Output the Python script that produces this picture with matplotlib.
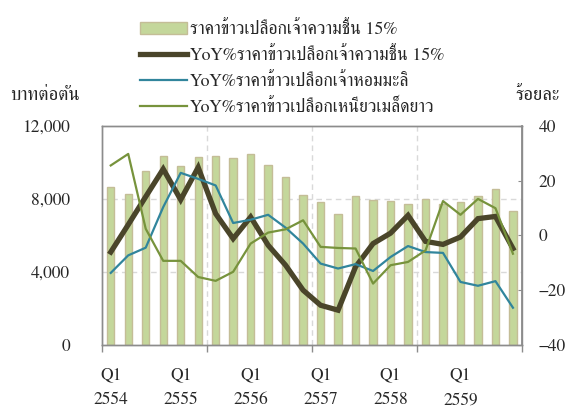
import numpy as np
import matplotlib
matplotlib.use("Agg")
from matplotlib import pyplot as plt
from matplotlib.patches import Patch
from matplotlib.lines import Line2D

plt.rcParams['font.family'] = ['FreeSerif', 'Liberation Serif', 'DejaVu Sans']

quarters = ['Q1\n2554', '', '', '', 'Q1\n2555', '', '', '', 'Q1\n2556', '', '', '',
            'Q1\n2557', '', '', '', 'Q1\n2558', '', '', '', 'Q1\n2559', '', '', '']

price_15 = [8650, 8250, 9500, 10320, 9770, 10270, 10320, 10210, 10470, 9860, 9170, 8210,
            7800, 7160, 8130, 7950, 7890, 7690, 7990, 7690, 7840, 8150, 8510, 7330]

yoy_15 = [-6.1, 3.9, 14.1, 24.2, 13.0, 24.8, 7.9, -1.2, 6.7, -3.6, -10.9, -20.0,
          -25.5, -27.3, -11.5, -3.0, 0.8, 7.3, -2.2, -3.3, -0.6, 6.1, 6.9, -4.8]

yoy_jasmine = [-13.7, -7.3, -4.5, 10.3, 22.8, 20.6, 18.2, 4.5, 5.7, 7.5, 2.8, -3.0,
               -10.3, -12.1, -10.5, -13.0, -7.9, -3.9, -6.1, -6.4, -17.0, -18.4, -16.7, -26.4]

yoy_glutinous = [25.5, 29.7, 2.4, -9.3, -9.3, -15.2, -16.6, -13.3, -3.0, 1.0, 2.2, 5.5,
                 -4.2, -4.6, -4.8, -17.6, -10.9, -9.7, -5.5, 12.5, 7.5, 13.3, 9.9, -6.7]

labels = ['ราคาข้าวเปลือกเจ้าความชื้น 15%',
          'YoY%ราคาข้าวเปลือกเจ้าความชื้น 15%',
          'YoY%ราคาข้าวเปลือกเจ้าหอมมะลิ',
          'YoY%ราคาข้าวเปลือกเหนียวเมล็ดยาว']

x = np.arange(len(price_15))

fig = plt.figure(figsize=(5.66, 4.07), dpi=100)
ax = fig.add_axes([102/566, 62/407, 419.7/566, 219.3/407])
ax2 = ax.twinx()

spine_c = '#8c8c8c'
grid_c = '#d9d9d9'
text_c = '#262626'

ax.bar(x, price_15, width=0.42, color='#c4d79b', edgecolor='#c4bd97', linewidth=1.0, zorder=2)
ax.set_xlim(-0.5, 23.5)
ax.set_ylim(0, 12000)
ax.set_yticks([0, 4000, 8000, 12000])
ax.set_yticklabels(['0', '4,000', '8,000', '12,000'])
for yv in [4000, 8000]:
    ax.axhline(yv, color=grid_c, lw=1.0, ls=(0, (4, 3)), zorder=1)
for xv in [5.5, 11.5, 17.5]:
    ax.axvline(xv, color=grid_c, lw=1.0, ls=(0, (4, 3)), zorder=1)

ax.set_xticks(x[::4])
ax.set_xticklabels([q for q in quarters if q])
ax.set_xticks([-0.5, 5.5, 11.5, 17.5, 23.5], minor=True)
ax.tick_params(axis='x', which='major', length=0, pad=16, labelsize=12.5, colors=text_c)
ax.tick_params(axis='x', which='minor', length=5, color=spine_c, width=1)
ax.tick_params(axis='y', length=0, pad=23, labelsize=12.5, colors=text_c)
for lab in ax.get_xticklabels():
    lab.set_linespacing(1.75)

ax2.plot(x, yoy_15, color='#4a452a', lw=3.8, zorder=3, solid_joinstyle='miter')
ax2.plot(x, yoy_jasmine, color='#31859c', lw=1.6, zorder=4)
ax2.plot(x, yoy_glutinous, color='#77933c', lw=1.6, zorder=5)
ax2.set_ylim(-40, 40)
ax2.set_yticks([-40, -20, 0, 20, 40])
ax2.tick_params(axis='y', direction='in', length=3, color=spine_c, pad=12,
                labelsize=12.5, colors=text_c)

for a in (ax, ax2):
    for s in a.spines.values():
        s.set_color(spine_c)
        s.set_linewidth(1.0)
ax2.spines['right'].set_linewidth(1.3)

fig.text(10/566, 1 - 95/407, 'บาทต่อตัน', fontsize=13.5, color=text_c, va='center', ha='left')
fig.text(560/566, 1 - 95/407, 'ร้อยละ', fontsize=13.5, color=text_c, va='center', ha='right')

handles = [Patch(facecolor='#c4d79b', edgecolor='#c4bd97'),
           Line2D([], [], color='#4a452a', lw=3.8),
           Line2D([], [], color='#31859c', lw=1.6),
           Line2D([], [], color='#77933c', lw=1.6)]
fig.legend(handles, labels, loc='upper left', bbox_to_anchor=(124/566, 1 - 5/407),
           frameon=False, fontsize=12.8, handlelength=2.65, handletextpad=0.15,
           labelspacing=0.5, labelcolor=text_c)

fig.savefig('out.png', dpi=100)
